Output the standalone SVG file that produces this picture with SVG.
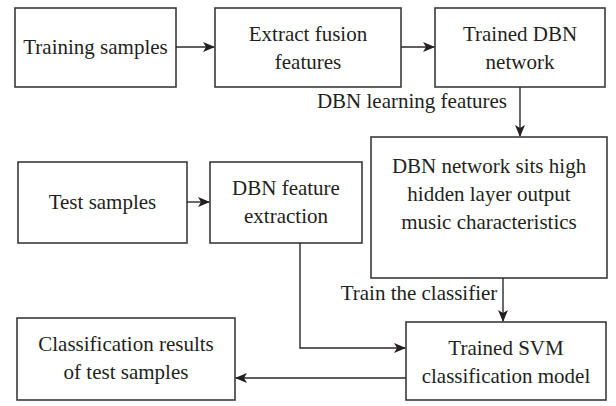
<svg xmlns="http://www.w3.org/2000/svg" width="616" height="406" viewBox="0 0 616 406">
<style>
.box{fill:#fff;stroke:#3a3a3a;stroke-width:1.6}
.ln{fill:none;stroke:#2a2a2a;stroke-width:1.4}
.t{font-family:'Liberation Serif','DejaVu Serif','Times New Roman',serif;font-size:21px;fill:#231f20;text-anchor:middle}
</style>
<defs>
<marker id="ah" markerWidth="12" markerHeight="10" refX="11" refY="5" orient="auto" markerUnits="userSpaceOnUse">
<path d="M0,0 L12,5 L0,10 L3,5 Z" fill="#231f20"/>
</marker>
</defs>
<g id="n1"><rect class="box" x="15" y="8" width="161" height="79"/><text class="t" x="95.5" y="54">Training samples</text></g>
<g id="n2"><rect class="box" x="215" y="8" width="186" height="79"/><text class="t" x="308" y="41">Extract fusion</text><text class="t" x="308" y="69">features</text></g>
<g id="n3"><rect class="box" x="435" y="8" width="170" height="79"/><text class="t" x="520" y="41">Trained DBN</text><text class="t" x="520" y="69">network</text></g>
<g id="n4"><rect class="box" x="371" y="137" width="236" height="141"/><text class="t" x="489" y="173">DBN network sits high</text><text class="t" x="489" y="201">hidden layer output</text><text class="t" x="489" y="229">music characteristics</text></g>
<g id="n5"><rect class="box" x="18" y="162" width="169" height="81"/><text class="t" x="102.5" y="209">Test samples</text></g>
<g id="n6"><rect class="box" x="210" y="162" width="152" height="81"/><text class="t" x="286" y="195">DBN feature</text><text class="t" x="286" y="223">extraction</text></g>
<g id="n7"><rect class="box" x="406" y="322" width="200" height="78"/><text class="t" x="506" y="355">Trained SVM</text><text class="t" x="506" y="383">classification model</text></g>
<g id="n8"><rect class="box" x="17" y="318" width="218" height="82"/><text class="t" x="126" y="351">Classification results</text><text class="t" x="126" y="379">of test samples</text></g>
<g id="edges">
<path class="ln" d="M176,47 H214" marker-end="url(#ah)"/>
<path class="ln" d="M401,47 H434" marker-end="url(#ah)"/>
<path class="ln" d="M520,87 V136" marker-end="url(#ah)"/>
<path class="ln" d="M187,202 H209" marker-end="url(#ah)"/>
<path class="ln" d="M300,243 V348 H405" marker-end="url(#ah)"/>
<path class="ln" d="M503,278 V321" marker-end="url(#ah)"/>
<path class="ln" d="M406,378 H236" marker-end="url(#ah)"/>
<text class="t" x="412" y="108">DBN learning features</text>
<text class="t" x="419" y="300">Train the classifier</text>
</g>
</svg>
